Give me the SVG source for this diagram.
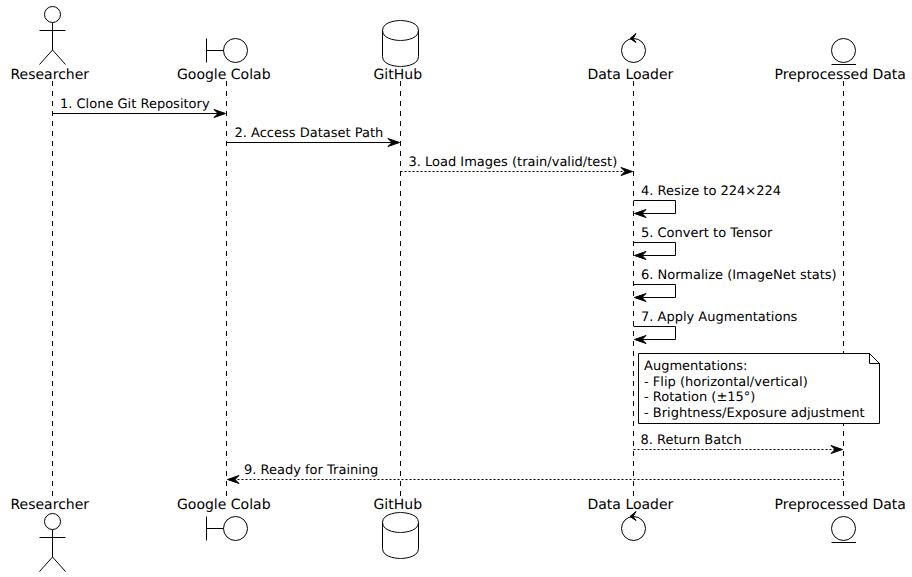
<svg xmlns="http://www.w3.org/2000/svg" width="912" height="577" viewBox="0 0 912 577">
<style>
text{font-family:"DejaVu Sans",sans-serif;font-size:13px;fill:#000;text-rendering:geometricPrecision}
text.n{font-size:14px}
.s{fill:none;stroke:#000;stroke-width:1}
.l{fill:none;stroke:#000;stroke-width:1;stroke-dasharray:5,5}
.m{fill:none;stroke:#000;stroke-width:1}
.d{fill:none;stroke:#000;stroke-width:1;stroke-dasharray:2,2}
.h{fill:#000;stroke:#000;stroke-width:1}
</style>
<rect width="912" height="577" fill="#fff"/>
<g id="lifelines">
<path class="l" d="M52.5 81V497"/>
<path class="l" d="M226.5 81V497"/>
<path class="l" d="M400.5 81V497"/>
<path class="l" d="M633.5 81V497"/>
<path class="l" d="M843.5 81V497"/>
</g>
<g id="connectors">
<path class="m" d="M52.5 113.5H224"/><polygon class="h" points="214,109.5 225.5,113.5 214,117.5 218,113.5"/>
<path class="m" d="M226.5 142.5H398"/><polygon class="h" points="388,138.5 399.5,142.5 388,146.5 392,142.5"/>
<path class="d" d="M400.5 171.5H631"/><polygon class="h" points="621,167.5 632.5,171.5 621,175.5 625,171.5"/>
<path class="m" d="M633.5 200.5H675.5V213.5H636"/><polygon class="h" points="646,209.5 634.5,213.5 646,217.5 642,213.5"/>
<path class="m" d="M633.5 242.5H675.5V255.5H636"/><polygon class="h" points="646,251.5 634.5,255.5 646,259.5 642,255.5"/>
<path class="m" d="M633.5 284.5H675.5V297.5H636"/><polygon class="h" points="646,293.5 634.5,297.5 646,301.5 642,297.5"/>
<path class="m" d="M633.5 326.5H675.5V339.5H636"/><polygon class="h" points="646,335.5 634.5,339.5 646,343.5 642,339.5"/>
<path class="d" d="M633.5 449.5H841"/><polygon class="h" points="831,445.5 842.5,449.5 831,453.5 835,449.5"/>
<path class="d" d="M843.5 479.5H229"/><polygon class="h" points="239,475.5 227.5,479.5 239,483.5 235,479.5"/>
</g>
<g id="message-labels">
<text x="60" y="108">1. Clone Git Repository</text>
<text x="234.5" y="137">2. Access Dataset Path</text>
<text x="408.5" y="166">3. Load Images (train/valid/test)</text>
<text x="641" y="195">4. Resize to 224×224</text>
<text x="641" y="237">5. Convert to Tensor</text>
<text x="641" y="279">6. Normalize (ImageNet stats)</text>
<text x="641" y="321">7. Apply Augmentations</text>
<text x="640.5" y="444">8. Return Batch</text>
<text x="244" y="474">9. Ready for Training</text>
</g>
<g id="note-augmentations">
<path class="s" style="fill:#fff" d="M638.5 353.5H869.5L879.5 363.5V423.5H638.5Z"/>
<path class="s" d="M869.5 353.5V363.5H879.5"/>
<text x="644" y="370">Augmentations:</text>
<text x="644" y="385.5">- Flip (horizontal/vertical)</text>
<text x="644" y="401">- Rotation (±15°)</text>
<text x="644" y="416.5">- Brightness/Exposure adjustment</text>
</g>
<g id="researcher-top">
<circle class="s" cx="52.5" cy="14.5" r="8"/>
<path class="s" d="M52.5 22.5V50M39.5 30.5H65.5M52.5 50L39.5 64.5M52.5 50L65.5 64.5"/>
<text class="n" x="10.5" y="79">Researcher</text>
</g>
<g id="colab-top">
<circle class="s" cx="235.5" cy="50.5" r="12"/>
<path class="s" d="M206.5 38.5V62.5M206.5 50.5H223.5"/>
<text class="n" x="177" y="79">Google Colab</text>
</g>
<g id="github-top">
<path class="s" d="M382.5 30.5C382.5 20.5 400.5 20.5 400.5 20.5C400.5 20.5 418.5 20.5 418.5 30.5V56.5C418.5 66.5 400.5 66.5 400.5 66.5C400.5 66.5 382.5 66.5 382.5 56.5V30.5M382.5 30.5C382.5 40.5 400.5 40.5 400.5 40.5C400.5 40.5 418.5 40.5 418.5 30.5"/>
<text class="n" x="373.5" y="79">GitHub</text>
</g>
<g id="loader-top">
<circle class="s" cx="633.5" cy="50.5" r="12"/>
<polygon class="h" points="636,33.5 630,38.5 636,42.5 633,38.5"/>
<text class="n" x="587.5" y="79">Data Loader</text>
</g>
<g id="preprocessed-top">
<circle class="s" cx="843.5" cy="50.5" r="12"/>
<path class="s" d="M831.5 64.5H856"/>
<text class="n" x="774.5" y="79">Preprocessed Data</text>
</g>
<g id="researcher-bottom">
<text class="n" x="10.5" y="509">Researcher</text>
<circle class="s" cx="52.5" cy="521.5" r="8"/>
<path class="s" d="M52.5 529.5V557M39.5 537.5H65.5M52.5 557L39.5 571.5M52.5 557L65.5 571.5"/>
</g>
<g id="colab-bottom">
<text class="n" x="177" y="509">Google Colab</text>
<circle class="s" cx="235.5" cy="528.5" r="12"/>
<path class="s" d="M206.5 516.5V540.5M206.5 528.5H223.5"/>
</g>
<g id="github-bottom">
<text class="n" x="373.5" y="509">GitHub</text>
<path class="s" d="M382.5 522.5C382.5 512.5 400.5 512.5 400.5 512.5C400.5 512.5 418.5 512.5 418.5 522.5V548.5C418.5 558.5 400.5 558.5 400.5 558.5C400.5 558.5 382.5 558.5 382.5 548.5V522.5M382.5 522.5C382.5 532.5 400.5 532.5 400.5 532.5C400.5 532.5 418.5 532.5 418.5 522.5"/>
</g>
<g id="loader-bottom">
<text class="n" x="587.5" y="509">Data Loader</text>
<circle class="s" cx="633.5" cy="528.5" r="12"/>
<polygon class="h" points="636,511.5 630,516.5 636,520.5 633,516.5"/>
</g>
<g id="preprocessed-bottom">
<text class="n" x="774.5" y="509">Preprocessed Data</text>
<circle class="s" cx="843.5" cy="528.5" r="12"/>
<path class="s" d="M831.5 542.5H856"/>
</g>
</svg>
